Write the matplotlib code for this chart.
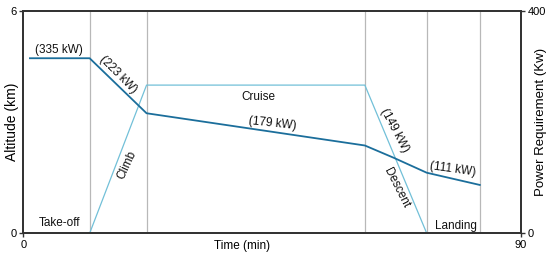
import matplotlib.pyplot as plt

plt.rcParams['font.family'] = ['Liberation Sans', 'DejaVu Sans']
plt.rcParams['font.size'] = 8

# phase boundaries (min)
phase_t = [12, 22.3, 61.8, 73, 82.6]

# altitude profile
alt_t = [12, 22.3, 61.8, 73]
alt_km = [0, 4, 4, 0]

# power requirement
pow_t = [1.2, 12, 22.3, 61.8, 67, 73, 82.6]
pow_kw = [315, 315, 216, 158, 136, 109, 87]

dark = '#1b6e9b'
light = '#72c0d8'

fig = plt.figure(figsize=(5.5, 2.6), dpi=100)
ax = fig.add_axes([0.0424, 0.1027, 0.9043, 0.855])
ax2 = ax.twinx()

for t in phase_t:
    ax.axvline(t, color='#b8b8b8', lw=0.9, zorder=1)

ax.plot(alt_t, alt_km, color=light, lw=0.9, zorder=2)
ax2.plot(pow_t, pow_kw, color=dark, lw=1.3, zorder=3)

ax.set_xlim(0, 90)
ax.set_ylim(0, 6)
ax2.set_ylim(0, 400)
ax.set_xticks([0, 90])
ax.set_yticks([0, 6])
ax2.set_yticks([0, 400])

for a in (ax, ax2):
    for s in a.spines.values():
        s.set_color('#333333')
        s.set_linewidth(1.3)
    a.tick_params(length=3, width=1, color='#333333', pad=2, labelsize=8)

# label coords: edge of the label nearest the axes
ax.set_ylabel('Altitude (km)', fontsize=10)
ax.yaxis.set_label_coords(-0.008, 0.5)
ax2.set_ylabel('Power Requirement (Kw)', fontsize=9.5)
ax2.yaxis.set_label_coords(1.028, 0.5)
fig.text(242 / 550, 1 - 246 / 260, 'Time (min)', ha='center', va='center', fontsize=8.5)

txt = dict(ha='center', va='center', fontsize=8.5, color='#111111')
ax.text(6.4, 4.95, '(335 kW)', **txt)
ax.text(17.1, 4.27, '(223 kW)', rotation=-45, rotation_mode='anchor', **txt)
ax.text(42.5, 3.68, 'Cruise', **txt)
ax.text(45, 2.97, '(179 kW)', rotation=-6, rotation_mode='anchor', **txt)
ax.text(67.2, 2.79, '(149 kW)', rotation=-62, rotation_mode='anchor', **txt)
ax.text(67.5, 1.22, 'Descent', rotation=-63, rotation_mode='anchor', **txt)
ax.text(18.8, 1.84, 'Climb', rotation=65, rotation_mode='anchor', **txt)
ax.text(77.7, 1.73, '(111 kW)', rotation=-8, rotation_mode='anchor', **txt)
ax.text(6.5, 0.29, 'Take-off', **txt)
ax.text(78.3, 0.2, 'Landing', **txt)

fig.savefig('out.png', dpi=100)
